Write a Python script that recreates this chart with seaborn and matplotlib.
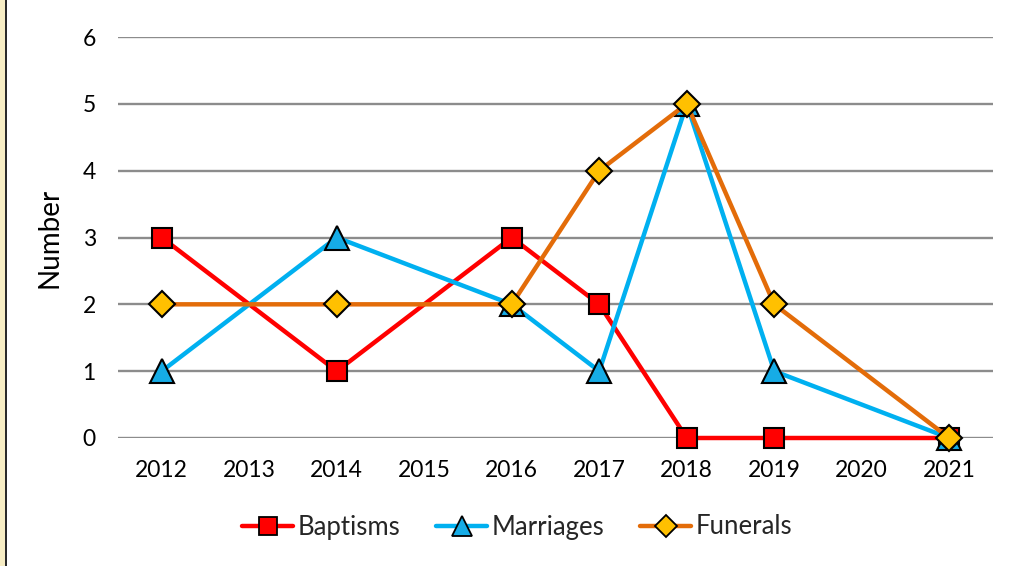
import numpy as np
import pandas as pd
import matplotlib
matplotlib.use("Agg")
import matplotlib.pyplot as plt
from matplotlib.lines import Line2D
from matplotlib.patches import Rectangle
import seaborn as sns

# Yearly counts of church services (missing years have no record)
years = ["2012", "2013", "2014", "2015", "2016", "2017", "2018", "2019", "2020", "2021"]
baptisms = [3, np.nan, 1, np.nan, 3, 2, 0, 0, np.nan, 0]
marriages = [1, np.nan, 3, np.nan, 2, 1, 5, 1, np.nan, 0]
funerals = [2, np.nan, 2, np.nan, 2, 4, 5, 2, np.nan, 0]
y_ticks = [0, 1, 2, 3, 4, 5, 6]

series = {"Baptisms": baptisms, "Marriages": marriages, "Funerals": funerals}
styles = {
    "Baptisms": dict(color="#FF0000", marker="s", mfc="#FF0000", ms=15),
    "Marriages": dict(color="#00B0F0", marker="^", mfc="#16ACE6", ms=17),
    "Funerals": dict(color="#E36C09", marker="D", mfc="#FFC000", ms=13.5),
}

rows = []
for name, vals in series.items():
    for i, v in enumerate(vals):
        rows.append({"pos": i, "year": years[i], "series": name, "value": v})
df = pd.DataFrame(rows).dropna()

sns.set_theme(style="white")
plt.rcParams["font.family"] = ["Lato", "DejaVu Sans"]

fig = plt.figure(figsize=(10.15, 5.66), dpi=100)
ax = fig.add_axes([118 / 1015, 1 - 438 / 566, (993 - 118) / 1015, (438 - 37) / 566])

for z, (name, st) in enumerate(styles.items()):
    sub = df[df["series"] == name]
    sns.lineplot(data=sub, x="pos", y="value", ax=ax, color=st["color"],
                 linewidth=3.2, marker=st["marker"], markersize=st["ms"],
                 markerfacecolor=st["mfc"], markeredgecolor="black",
                 markeredgewidth=1.5, zorder=3 + z, legend=False)
for line in ax.lines:
    line.set_clip_on(False)

ax.set_xlim(-0.5, len(years) - 0.5)
ax.set_ylim(0, 6)
ax.set_xticks(range(len(years)))
ax.set_xticklabels(years)
ax.set_yticks(y_ticks)
ax.set_yticklabels([str(t) for t in y_ticks])
ax.tick_params(axis="both", length=0, labelsize=16.5, colors="black")
ax.tick_params(axis="y", pad=16)
ax.tick_params(axis="x", pad=16)
ax.set_xlabel("")
ax.set_ylabel("Number", fontsize=20, color="black", labelpad=14)
ax.yaxis.grid(True, color="#8C8C8C", linewidth=1.7)
ax.xaxis.grid(False)
for sp in ax.spines.values():
    sp.set_visible(False)
ax.set_axisbelow(True)

handles = [
    Line2D([], [], color=st["color"], linewidth=3.2, marker=st["marker"],
           markersize=st["ms"] * 0.85, markerfacecolor=st["mfc"],
           markeredgecolor="black", markeredgewidth=1.3)
    for st in styles.values()
]
fig.legend(handles, list(styles.keys()), loc="center", ncol=3,
           bbox_to_anchor=(517 / 1015, 1 - 527 / 566), frameon=False,
           fontsize=18.5, handlelength=2.0, handletextpad=0.15, columnspacing=1.4)

# Left frame edge
fig.patches.append(Rectangle((0, 0), 5 / 1015, 1, transform=fig.transFigure,
                             facecolor="#F7EDC4", edgecolor="none"))
fig.lines.append(Line2D([5.5 / 1015, 5.5 / 1015], [0, 1], transform=fig.transFigure,
                        color="black", linewidth=1.2))

fig.savefig("out.png", dpi=100)
